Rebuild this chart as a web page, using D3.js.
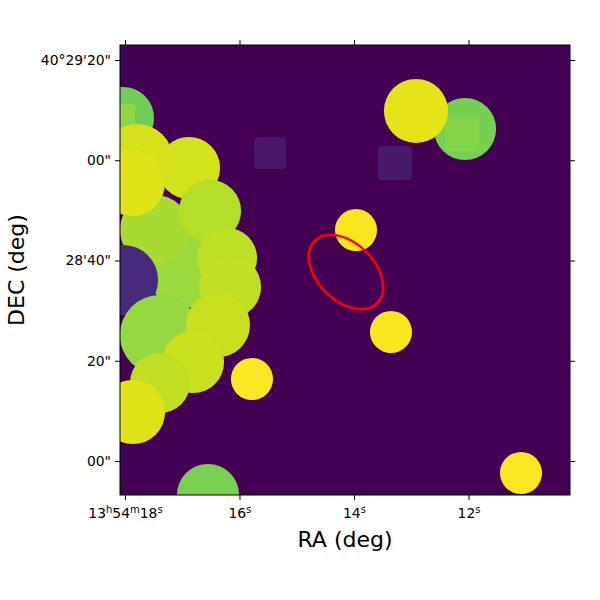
<!DOCTYPE html>
<html><head><meta charset="utf-8">
<script src="https://cdn.jsdelivr.net/npm/d3@7/dist/d3.min.js"></script>
<style>body{margin:0;background:#fff}svg{display:block}text{font-family:"DejaVu Sans",sans-serif}</style>
</head><body><svg id="c" width="600" height="600"></svg>
<script>
// Axis extents (RA seconds past 13h54m, Dec arcsec past 40°28'00")
const raDomain = [18.087, 10.227];
const decDomain = [82.99, -6.78];
const xTicks = [18, 16, 14, 12];
const xTickLabels = ["13^h54^m18^s", "16^s", "14^s", "12^s"];
const yTicks = [80, 60, 40, 20, 0];
const yTickLabels = ["40°29'20\"", "00\"", "28'40\"", "20\"", "00\""];

// Mask sources in painter's order: kind, RA (s), Dec (arcsec), radius / half-size (arcsec), value (0..1)
const srcKind  = ["c","s","c","c","c","c","c","c","c","c","c","c","c","c","c","c","c","c","c","s","c","c","c","c","s","s"];
const srcRA    = [18.035,18.122,16.952,17.476,17.790,17.878,16.882,16.515,18.035,17.389,16.218,16.166,16.376,16.812,17.389,17.860,15.782,16.550,12.061,12.114,12.917,13.965,13.354,11.083,15.467,13.284];
const srcDec   = [68.43,67.83,38.10,46.08,60.05,55.46,58.45,49.88,36.11,25.14,40.50,34.71,27.13,19.75,15.56,9.78,16.36,-6.78,66.23,65.24,69.83,46.08,25.74,-2.39,61.45,59.45];
const srcSize  = [6.2,3.4,7.6,7.0,7.2,6.6,6.2,6.2,7.0,8.0,6.0,6.2,6.4,6.2,6.0,6.4,4.2,6.2,6.2,3.4,6.4,4.2,4.2,4.2,3.2,3.4];
const srcValue = [0.78,0.83,0.85,0.87,0.935,0.95,0.93,0.89,0.12,0.84,0.90,0.905,0.915,0.92,0.91,0.95,1.0,0.80,0.79,0.82,0.96,0.99,0.99,1.0,0.06,0.07];

// Region ellipse
const ellRA = [14.140], ellDec = [37.71], ellA = [8.8], ellB = [5.7], ellAngle = [45];

const L = 120, R = 570, T = 45, B = 495;
const svg = d3.select("#c");
const x = d3.scaleLinear().domain(raDomain).range([L, R]);
const y = d3.scaleLinear().domain(decDomain).range([T, B]);
const color = d3.scaleSequential(d3.interpolateViridis).domain([0, 1]);
const pxPerArcsec = Math.abs(y(0) - y(1));

svg.append("defs").append("clipPath").attr("id","clip")
  .append("rect").attr("x",L).attr("y",T).attr("width",R-L).attr("height",B-T);

const plot = svg.append("g").attr("clip-path","url(#clip)");
plot.append("rect").attr("x",L).attr("y",T).attr("width",R-L).attr("height",B-T).attr("fill",color(0));

const srcs = srcKind.map((k,i)=>({k, ra:srcRA[i], dec:srcDec[i], s:srcSize[i], v:srcValue[i]}));
srcs.forEach(d=>{
  const r = d.s * pxPerArcsec;
  if (d.k === "c") {
    plot.append("circle").attr("cx", x(d.ra)).attr("cy", y(d.dec)).attr("r", r).attr("fill", color(d.v));
  } else {
    plot.append("rect").attr("x", x(d.ra)-r).attr("y", y(d.dec)-r).attr("width", 2*r).attr("height", 2*r)
      .attr("rx", 4).attr("fill", color(d.v));
  }
});

ellRA.forEach((ra,i)=>{
  plot.append("ellipse").attr("cx",0).attr("cy",0)
    .attr("rx", ellA[i]*pxPerArcsec).attr("ry", ellB[i]*pxPerArcsec)
    .attr("transform", `translate(${x(ra)},${y(ellDec[i])}) rotate(${ellAngle[i]})`)
    .attr("fill","none").attr("stroke","#ff0000").attr("stroke-width",2.5);
});

// frame
svg.append("rect").attr("x",L).attr("y",T).attr("width",R-L).attr("height",B-T)
  .attr("fill","none").attr("stroke","#000").attr("stroke-width",1);

// axes
const tl = 5, fs = 13.9;
const gBottom = svg.append("g").attr("transform",`translate(0,${B})`)
  .call(d3.axisBottom(x).tickValues(xTicks).tickSize(tl).tickPadding(4).tickFormat(""));
const gTop = svg.append("g").attr("transform",`translate(0,${T})`)
  .call(d3.axisTop(x).tickValues(xTicks).tickSize(tl).tickFormat(""));
const gLeft = svg.append("g").attr("transform",`translate(${L},0)`)
  .call(d3.axisLeft(y).tickValues(yTicks).tickSize(tl).tickPadding(4).tickFormat((d,i)=>yTickLabels[i]));
const gRight = svg.append("g").attr("transform",`translate(${R},0)`)
  .call(d3.axisRight(y).tickValues(yTicks).tickSize(tl).tickFormat(""));
[gBottom,gTop,gLeft,gRight].forEach(g=>{
  g.select(".domain").remove();
  g.selectAll(".tick line").attr("stroke","#000");
});
gLeft.selectAll(".tick text").attr("font-size",fs).attr("fill","#000").attr("font-family","DejaVu Sans");

// bottom labels with superscripts
gBottom.selectAll(".tick").each(function(d,i){
  const t = d3.select(this).select("text").text(null)
    .attr("font-size",fs).attr("fill","#000").attr("font-family","DejaVu Sans")
    .attr("dy",null).attr("y",23);
  const parts = xTickLabels[i].split(/(\^[a-z])/).filter(s=>s.length);
  let sup = false;
  parts.forEach(p=>{
    if (p[0]==="^") {
      t.append("tspan").attr("font-size",10).attr("dy",-5.5).text(p.slice(1));
      sup = true;
    } else {
      t.append("tspan").attr("font-size",fs).attr("dy", sup?5.5:0).text(p);
      sup = false;
    }
  });
});

svg.append("text").attr("x",(L+R)/2).attr("y",547).attr("text-anchor","middle")
  .attr("font-size",22).attr("fill","#000").text("RA (deg)");
svg.append("text").attr("transform",`translate(24,${(T+B)/2}) rotate(-90)`).attr("text-anchor","middle")
  .attr("font-size",22).attr("fill","#000").text("DEC (deg)");
</script></body></html>
